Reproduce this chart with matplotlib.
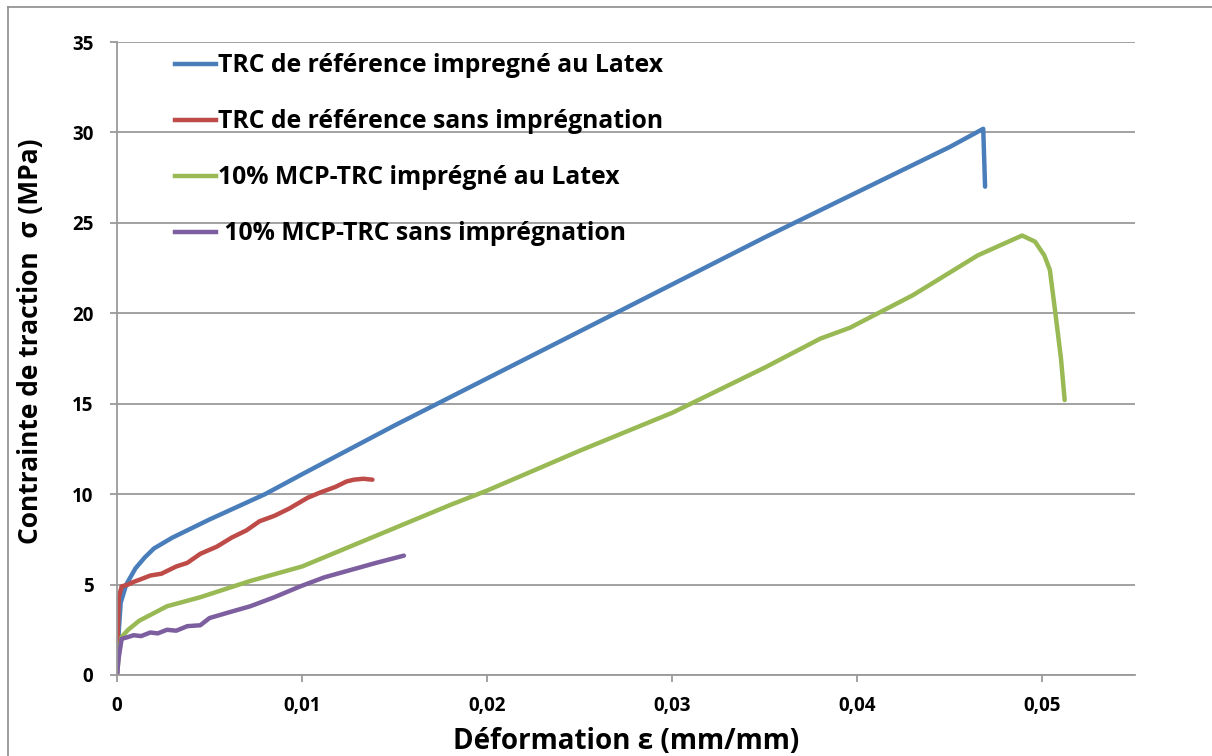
import matplotlib

matplotlib.use("Agg")
import matplotlib.pyplot as plt
from matplotlib.lines import Line2D

# strain (mm/mm) / stress (MPa)
ref_latex_x = [0, 0.0001, 0.0002, 0.0005, 0.001, 0.0015, 0.002, 0.003, 0.005, 0.008,
               0.01, 0.015, 0.02, 0.025, 0.03, 0.035, 0.04, 0.045, 0.0468, 0.0469]
ref_latex_y = [0, 2.5, 4.0, 5.0, 5.9, 6.5, 7.0, 7.6, 8.6, 10.0,
               11.1, 13.8, 16.4, 19.0, 21.6, 24.2, 26.7, 29.2, 30.2, 27.0]

ref_raw_x = [0, 0.00005, 0.0001, 0.00025, 0.0006, 0.0009, 0.0013, 0.0018, 0.0024, 0.0032,
             0.0038, 0.0045, 0.0054, 0.0062, 0.0070, 0.0077, 0.0085, 0.0093, 0.0103,
             0.0110, 0.0118, 0.0124, 0.0128, 0.0133, 0.0138]
ref_raw_y = [0, 2.5, 4.3, 4.9, 5.0, 5.15, 5.3, 5.5, 5.6, 6.0,
             6.2, 6.7, 7.1, 7.6, 8.0, 8.5, 8.8, 9.2, 9.8,
             10.1, 10.4, 10.7, 10.8, 10.85, 10.8]

mcp_latex_x = [0, 0.0001, 0.00025, 0.0006, 0.0012, 0.0027, 0.0045, 0.0072, 0.01,
               0.014, 0.018, 0.02, 0.025, 0.03, 0.032, 0.035, 0.038, 0.0396, 0.043,
               0.0465, 0.0489, 0.0496, 0.0501, 0.0504, 0.0507, 0.0510, 0.0512]
mcp_latex_y = [0, 1.2, 2.1, 2.5, 3.0, 3.8, 4.3, 5.2, 6.0,
               7.7, 9.4, 10.2, 12.4, 14.5, 15.5, 17.0, 18.6, 19.2, 21.0,
               23.2, 24.3, 23.96, 23.2, 22.4, 20.0, 17.5, 15.2]

mcp_raw_x = [0, 0.0001, 0.00025, 0.0006, 0.0009, 0.0013, 0.0018, 0.0022, 0.0027, 0.0032,
             0.0038, 0.0045, 0.0050, 0.0060, 0.0072, 0.0085, 0.0099, 0.0112, 0.0126,
             0.0140, 0.0155]
mcp_raw_y = [0, 1.0, 2.0, 2.1, 2.2, 2.15, 2.35, 2.3, 2.5, 2.45,
             2.7, 2.75, 3.15, 3.45, 3.8, 4.3, 4.9, 5.4, 5.8,
             6.2, 6.6]

labels = ["TRC de référence impregné au Latex",
          "TRC de référence sans imprégnation",
          "10% MCP-TRC imprégné au Latex",
          " 10% MCP-TRC sans imprégnation"]
colors = ["#4a7ebb", "#be4b48", "#98b954", "#7d5fa0"]

plt.rcParams["font.family"] = ["Open Sans", "DejaVu Sans"]
plt.rcParams["font.weight"] = "bold"

fig = plt.figure(figsize=(12.12, 7.56), dpi=100)
ax = fig.add_axes([117 / 1212, 1 - 675 / 756, 1018 / 1212, 633 / 756])

series = [(ref_latex_x, ref_latex_y), (ref_raw_x, ref_raw_y),
          (mcp_latex_x, mcp_latex_y), (mcp_raw_x, mcp_raw_y)]
for (xs, ys), c in zip(series, colors):
    ax.plot(xs, ys, color=c, lw=3.2, solid_capstyle="round", solid_joinstyle="round")

ax.set_xlim(0, 0.055)
ax.set_ylim(0, 35)
ax.set_xticks([0, 0.01, 0.02, 0.03, 0.04, 0.05])
ax.set_xticklabels(["0", "0,01", "0,02", "0,03", "0,04", "0,05"])
ax.set_yticks(range(0, 36, 5))
ax.yaxis.grid(True, color="#9a9a9a", lw=1.3)
ax.set_axisbelow(True)
for s in ["top", "right"]:
    ax.spines[s].set_visible(False)
for s in ["left", "bottom"]:
    ax.spines[s].set_color("#9a9a9a")
    ax.spines[s].set_linewidth(1.3)
ax.tick_params(axis="both", colors="#9a9a9a", length=5, width=1.3, labelcolor="black",
               labelsize=13.5)
ax.tick_params(axis="x", pad=10)
ax.tick_params(axis="y", pad=12)
for t in ax.get_xticklabels() + ax.get_yticklabels():
    t.set_fontweight("bold")

ax.set_xlabel("Déformation ε (mm/mm)", fontsize=20, fontweight="bold", labelpad=8)
ax.set_ylabel("Contrainte de traction  σ (MPa)", fontsize=19, fontweight="bold")
ax.yaxis.set_label_coords(-0.072, 0.528)

handles = [Line2D([0], [0], color=c, lw=3.2) for c in colors]
ax.legend(handles, labels, loc="upper left", bbox_to_anchor=(0.035, 1.017), frameon=False,
          prop={"size": 17.8, "weight": "bold"}, handlelength=1.65, handletextpad=0.1,
          labelspacing=1.25)

# outer chart-area border (only top and left visible)
fig.add_artist(Line2D([7.5 / 1212, 1], [1 - 6.5 / 756] * 2, color="#8c8c8c", lw=1.2,
                      transform=fig.transFigure))
fig.add_artist(Line2D([7.5 / 1212] * 2, [0, 1 - 6.5 / 756], color="#8c8c8c", lw=1.2,
                      transform=fig.transFigure))

fig.savefig("out.png", dpi=100)
plt.close(fig)
